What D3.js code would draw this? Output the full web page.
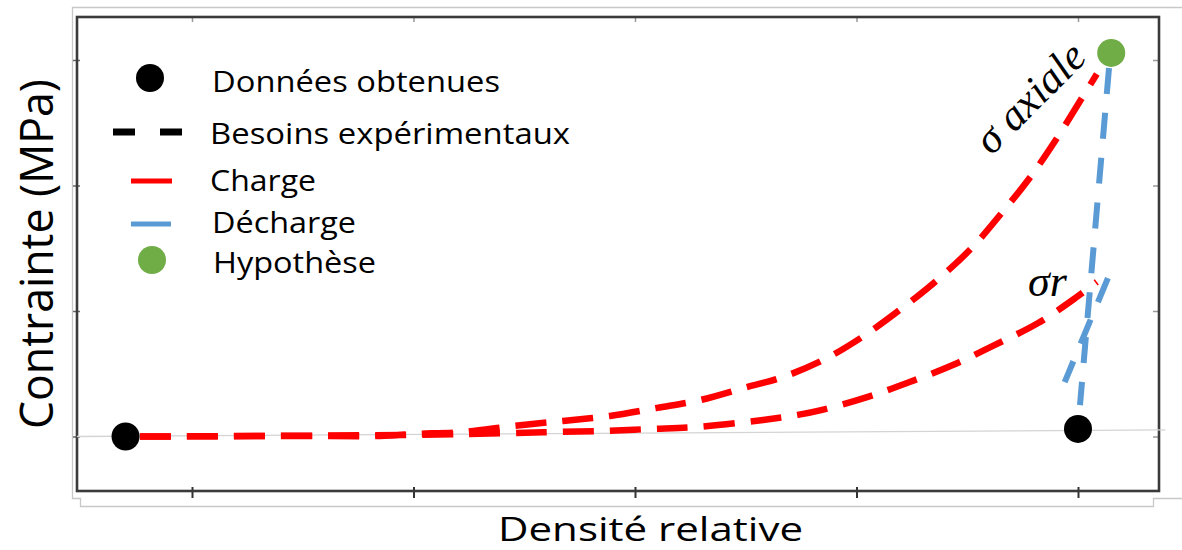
<!DOCTYPE html>
<html>
<head>
<meta charset="utf-8">
<script src="https://cdn.jsdelivr.net/npm/d3@7"></script>
<style>
  html, body { margin: 0; padding: 0; background: #fff; }
  svg { display: block; }
</style>
</head>
<body>
<svg id="chart" width="1182" height="550"></svg>
<script>
// ---------------- data ----------------
const xTicks = [0.2, 0.4, 0.6, 0.8, 1.0];
const yTicks = [0, 50, 100, 150];

const obtainedX = [0.14, 1.0];
const obtainedY = [0, 3.0];

const hypothesisX = [1.03];
const hypothesisY = [152.8];

const axialX = [0.153, 0.2975, 0.370, 0.3996, 0.4447, 0.4898, 0.535, 0.5774, 0.620, 0.6587, 0.701, 0.731, 0.770, 0.805, 0.839, 0.873, 0.904, 0.931, 0.957, 0.981, 1.0036, 1.017];
const axialY = [0, 0.2, 0.2, 1.0, 1.8, 4.2, 6.2, 8.2, 11.4, 14.5, 19.7, 23.3, 30.5, 39.6, 50.4, 62.4, 75.1, 89.0, 103.4, 118.9, 134.9, 144.4];

const radialX = [0.153, 0.388, 0.490, 0.530, 0.571, 0.6135, 0.656, 0.7156, 0.747, 0.769, 0.8095, 0.848, 0.887, 0.925, 0.964, 0.999, 1.017];
const radialY = [0, 0.6, 1.4, 1.8, 2.2, 3.0, 3.8, 6.6, 8.6, 10.6, 15.7, 21.7, 28.5, 36.5, 45.2, 55.6, 61.6];

const unloadMainX = [1.028, 1.0018];
const unloadMainY = [146.8, 12.5];
const unloadRadialX = [1.027, 0.988];
const unloadRadialY = [63.1, 21.7];

const baselineX = [0.096, 1.079];
const baselineY = [0, 2.6];

const legendLabels = ["Données obtenues", "Besoins expérimentaux", "Charge", "Décharge", "Hypothèse"];
const xTitle = "Densité relative";
const yTitle = "Contrainte (MPa)";

// ---------------- drawing ----------------
const svg = d3.select("#chart");
const x = d3.scaleLinear().domain([0.2, 1.0]).range([192, 1078]);
const y = d3.scaleLinear().domain([0, 150]).range([436.5, 60]);
const box = { left: 77, right: 1159, top: 17, bottom: 491 };

const zip = (xs, ys) => xs.map((v, i) => [v, ys[i]]);

// outer light frame (pasted image border)
svg.append("path")
  .attr("d", "M1182,7.5 L72.5,7.5 L72.5,498.5 L80.5,498.5 L80.5,506.5 L1153.5,506.5 L1153.5,498.5 L1182,498.5")
  .attr("fill", "none").attr("stroke", "#c8c8c8").attr("stroke-width", 1.3);

// axes ticks
const gB = svg.append("g").attr("transform", `translate(0,${box.bottom})`)
  .call(d3.axisBottom(x).tickValues(xTicks).tickSize(7).tickFormat(""));
gB.selectAll(".tick line").attr("y1", -4).attr("stroke", "#333").attr("stroke-width", 2);
const gT = svg.append("g").attr("transform", `translate(0,${box.top})`)
  .call(d3.axisTop(x).tickValues(xTicks).tickSize(-5).tickFormat(""));
gT.selectAll(".tick line").attr("stroke", "#999").attr("stroke-width", 1.5);
const gL = svg.append("g").attr("transform", `translate(${box.left},0)`)
  .call(d3.axisLeft(y).tickValues(yTicks).tickSize(4).tickFormat(""));
gL.selectAll(".tick line").attr("x1", 3).attr("stroke", "#666").attr("stroke-width", 1.5);
const gR = svg.append("g").attr("transform", `translate(${box.right},0)`)
  .call(d3.axisRight(y).tickValues(yTicks).tickSize(-6).tickFormat(""));
gR.selectAll(".tick line").attr("stroke", "#999").attr("stroke-width", 1.5);
svg.selectAll(".domain").remove();

// plot frame
svg.append("rect")
  .attr("x", box.left).attr("y", box.top)
  .attr("width", box.right - box.left).attr("height", box.bottom - box.top)
  .attr("fill", "none").attr("stroke", "#3a3a3a").attr("stroke-width", 2.6);

// reference baseline
svg.append("line")
  .attr("x1", x(baselineX[0])).attr("y1", y(baselineY[0]))
  .attr("x2", x(baselineX[1])).attr("y2", y(baselineY[1]))
  .attr("stroke", "#d4d4d4").attr("stroke-width", 1.3);

const curve = d3.line().x(d => x(d[0])).y(d => y(d[1])).curve(d3.curveCatmullRom);
const straight = d3.line().x(d => x(d[0])).y(d => y(d[1]));

// loading curves (red)
[zip(axialX, axialY), zip(radialX, radialY)].forEach(pts => {
  svg.append("path").attr("d", curve(pts))
    .attr("fill", "none").attr("stroke", "#ff0000")
    .attr("stroke-width", 6.5).attr("stroke-dasharray", "31,16");
});

// unloading lines (blue)
[zip(unloadMainX, unloadMainY), zip(unloadRadialX, unloadRadialY)].forEach(pts => {
  svg.append("path").attr("d", straight(pts))
    .attr("fill", "none").attr("stroke", "#5b9bd5")
    .attr("stroke-width", 6).attr("stroke-dasharray", "26,19");
});

// points
svg.selectAll(".obt").data(zip(obtainedX, obtainedY)).enter().append("circle")
  .attr("cx", d => x(d[0])).attr("cy", d => y(d[1])).attr("r", 14).attr("fill", "#000");
svg.selectAll(".hyp").data(zip(hypothesisX, hypothesisY)).enter().append("circle")
  .attr("cx", d => x(d[0])).attr("cy", d => y(d[1])).attr("r", 14).attr("fill", "#70ad47");

// annotations
const ax = x(0.9657), ay = y(131);
svg.append("text")
  .attr("transform", `translate(${ax},${ay}) rotate(-45)`)
  .attr("text-anchor", "middle")
  .attr("font-family", "'Liberation Serif', serif").attr("font-style", "italic")
  .attr("font-size", 43).attr("fill", "#000")
  .text("σ axiale");
svg.append("text")
  .attr("x", x(0.9549)).attr("y", y(56))
  .attr("font-family", "'Liberation Serif', serif").attr("font-style", "italic")
  .attr("font-size", 44).attr("fill", "#000")
  .text("σr");

// legend
const legend = svg.append("g");
legend.append("circle").attr("cx", 150).attr("cy", 78).attr("r", 14).attr("fill", "#000");
legend.append("line").attr("x1", 113).attr("x2", 187).attr("y1", 132).attr("y2", 132)
  .attr("stroke", "#000").attr("stroke-width", 7).attr("stroke-dasharray", "22,25");
legend.append("line").attr("x1", 131).attr("x2", 172).attr("y1", 181).attr("y2", 181)
  .attr("stroke", "#ff0000").attr("stroke-width", 5);
legend.append("line").attr("x1", 131).attr("x2", 171).attr("y1", 224).attr("y2", 224)
  .attr("stroke", "#5b9bd5").attr("stroke-width", 5);
legend.append("circle").attr("cx", 152).attr("cy", 260).attr("r", 14).attr("fill", "#70ad47");

const legX = [212, 210, 210, 212, 213];
const legY = [92, 144, 191, 233, 273];
const legW = [288, 360, 106, 144, 163];
legendLabels.forEach((t, i) => {
  legend.append("text")
    .attr("x", legX[i]).attr("y", legY[i])
    .attr("font-family", "'Open Sans', sans-serif").attr("font-size", 29)
    .attr("textLength", legW[i]).attr("lengthAdjust", "spacingAndGlyphs")
    .attr("fill", "#000").text(t);
});

// axis titles
svg.append("text")
  .attr("x", 650.5).attr("y", 541)
  .attr("text-anchor", "middle")
  .attr("font-family", "'Open Sans', sans-serif").attr("font-size", 33.5)
  .attr("textLength", 305).attr("lengthAdjust", "spacingAndGlyphs")
  .attr("fill", "#000").text(xTitle);
svg.append("text")
  .attr("transform", "translate(53,254) rotate(-90)")
  .attr("text-anchor", "middle")
  .attr("font-family", "'Open Sans', sans-serif").attr("font-size", 46)
  .attr("textLength", 350).attr("lengthAdjust", "spacingAndGlyphs")
  .attr("fill", "#000").text(yTitle);
</script>
</body>
</html>
